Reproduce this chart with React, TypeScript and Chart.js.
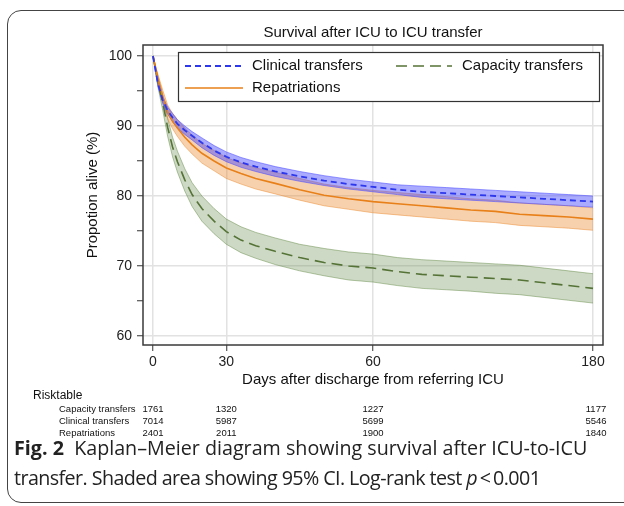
import React, { useEffect, useRef } from 'react';
import { Chart, registerables } from 'chart.js';

Chart.register(...registerables);

// ---- data ----
const days = [0, 2, 4, 6, 8, 10, 13, 16, 20, 25, 30, 36, 42, 50, 60, 70, 80, 90, 100, 110, 120, 130, 140, 150, 160, 170, 180];

const clinical = [100, 96.1, 93.7, 92.2, 91.2, 90.3, 89.4, 88.6, 87.6, 86.5, 85.6, 84.8, 84.2, 83.5, 82.8, 82.2, 81.7, 81.3, 80.9, 80.6, 80.4, 80.2, 80.0, 79.8, 79.6, 79.4, 79.2];
const clinicalLow = [100, 95.7, 93.2, 91.7, 90.6, 89.7, 88.8, 88.0, 86.9, 85.8, 84.9, 84.1, 83.5, 82.8, 82.1, 81.5, 81.0, 80.6, 80.2, 79.8, 79.6, 79.4, 79.2, 79.0, 78.8, 78.6, 78.4];
const clinicalHigh = [100, 96.5, 94.2, 92.7, 91.8, 90.9, 90.0, 89.2, 88.3, 87.2, 86.3, 85.5, 84.9, 84.2, 83.5, 82.9, 82.4, 82.0, 81.6, 81.4, 81.2, 81.0, 80.8, 80.6, 80.4, 80.2, 80.0];

const repatriations = [100, 96.7, 94.2, 92.0, 90.7, 89.7, 88.4, 87.3, 86.1, 85.0, 84.0, 83.2, 82.5, 81.8, 80.9, 80.1, 79.6, 79.2, 78.9, 78.6, 78.3, 78.0, 77.8, 77.4, 77.2, 77.0, 76.7];
const repatriationsLow = [100, 96.0, 93.3, 91.0, 89.6, 88.5, 87.1, 86.0, 84.7, 83.6, 82.5, 81.7, 81.0, 80.3, 79.4, 78.6, 78.1, 77.6, 77.3, 77.0, 76.7, 76.4, 76.2, 75.8, 75.6, 75.4, 75.1];
const repatriationsHigh = [100, 97.4, 95.1, 93.0, 91.8, 90.9, 89.7, 88.7, 87.5, 86.5, 85.5, 84.7, 84.0, 83.4, 82.5, 81.7, 81.2, 80.8, 80.5, 80.2, 79.9, 79.6, 79.4, 79.0, 78.8, 78.6, 78.3];

const capacity = [100, 96.4, 93.3, 89.8, 87.0, 84.9, 82.3, 80.2, 78.2, 76.4, 74.9, 73.7, 72.9, 72.1, 71.2, 70.5, 70.0, 69.7, 69.2, 68.8, 68.6, 68.4, 68.2, 68.0, 67.6, 67.2, 66.8];
const capacityLow = [100, 95.6, 92.2, 88.5, 85.6, 83.4, 80.7, 78.5, 76.4, 74.6, 73.1, 71.9, 71.1, 70.2, 69.3, 68.6, 68.0, 67.7, 67.2, 66.8, 66.6, 66.4, 66.1, 65.9, 65.5, 65.1, 64.7];
const capacityHigh = [100, 97.2, 94.4, 91.1, 88.4, 86.4, 83.9, 81.9, 80.0, 78.2, 76.7, 75.6, 74.8, 74.0, 73.1, 72.5, 72.0, 71.7, 71.2, 70.9, 70.7, 70.5, 70.3, 70.1, 69.7, 69.3, 68.9];

const xTickValues = [0, 30, 90, 180];
const xTickLabels = ['0', '30', '60', '180'];
const yTickValues = [60, 65, 70, 75, 80, 85, 90, 95, 100];

const riskGroups = ['Capacity transfers', 'Clinical transfers', 'Repatriations'];
const riskCapacity = [1761, 1320, 1227, 1177];
const riskClinical = [7014, 5987, 5699, 5546];
const riskRepatriations = [2401, 2011, 1900, 1840];

const FONT = '"Liberation Sans", Arial, Helvetica, sans-serif';

const pts = (arr: number[]) => days.map((d, i) => ({ x: d, y: arr[i] }));

const BLUE = 'rgb(45,55,235)';
const ORANGE = 'rgb(232,128,25)';
const GREEN = 'rgb(85,115,55)';

export default function App() {
  const ref = useRef<HTMLCanvasElement | null>(null);

  useEffect(() => {
    if (!ref.current) return;
    Chart.defaults.font.family = FONT;

    const band = (data: number[], edge: string, fillColor: string, order: number, fill: any) => ({
      label: '',
      data: pts(data),
      borderColor: edge,
      borderWidth: 1,
      backgroundColor: fillColor,
      pointRadius: 0,
      fill,
      order,
      tension: 0,
    });

    const datasets: any[] = [
      band(capacityLow, 'rgba(90,130,60,0.45)', 'rgba(90,130,60,0.3)', 8, false),
      band(capacityHigh, 'rgba(90,130,60,0.45)', 'rgba(90,130,60,0.3)', 7, '-1'),
      band(repatriationsLow, 'rgba(235,140,50,0.5)', 'rgba(235,140,50,0.4)', 6, false),
      band(repatriationsHigh, 'rgba(235,140,50,0.5)', 'rgba(235,140,50,0.4)', 5, '-1'),
      band(clinicalLow, 'rgba(75,75,255,0.55)', 'rgba(75,75,255,0.47)', 4, false),
      band(clinicalHigh, 'rgba(75,75,255,0.55)', 'rgba(75,75,255,0.47)', 3, '-1'),
      { label: 'Capacity transfers', data: pts(capacity), borderColor: GREEN, borderWidth: 1.6, borderDash: [11, 6], pointRadius: 0, fill: false, order: 2 },
      { label: 'Repatriations', data: pts(repatriations), borderColor: ORANGE, borderWidth: 1.6, pointRadius: 0, fill: false, order: 1 },
      { label: 'Clinical transfers', data: pts(clinical), borderColor: BLUE, borderWidth: 1.8, borderDash: [6, 4], pointRadius: 0, fill: false, order: 0 },
    ];

    const legendItems = [
      { index: 8, dx: 7, dy: 14, len: 58, gap: 9 },
      { index: 6, dx: 218, dy: 14, len: 56, gap: 10 },
      { index: 7, dx: 7, dy: 36, len: 58, gap: 9 },
    ];

    const overlay = {
      id: 'overlay',
      afterDatasetsDraw(chart: any) {
        const { ctx, chartArea: a } = chart;
        ctx.save();
        ctx.strokeStyle = '#3a3a3a';
        ctx.lineWidth = 1.5;
        ctx.strokeRect(a.left, a.top, a.right - a.left, a.bottom - a.top);

        const bx = a.left + 35, by = a.top + 7, bw = 421, bh = 49;
        ctx.fillStyle = '#ffffff';
        ctx.fillRect(bx, by, bw, bh);
        ctx.lineWidth = 1.2;
        ctx.strokeStyle = '#333';
        ctx.strokeRect(bx + 0.5, by + 0.5, bw, bh);
        legendItems.forEach((it) => {
          const ds = chart.data.datasets[it.index];
          const x0 = bx + it.dx, y = by + it.dy;
          ctx.beginPath();
          ctx.setLineDash(ds.borderDash || []);
          ctx.strokeStyle = ds.borderColor;
          ctx.lineWidth = ds.borderWidth;
          ctx.moveTo(x0, y);
          ctx.lineTo(x0 + it.len, y);
          ctx.stroke();
          ctx.setLineDash([]);
          ctx.fillStyle = '#111';
          ctx.font = '15px ' + FONT;
          ctx.textBaseline = 'middle';
          ctx.textAlign = 'left';
          ctx.fillText(ds.label, x0 + it.len + it.gap, y);
        });
        ctx.restore();
      },
      afterDraw(chart: any) {
        const { ctx, chartArea: a } = chart;
        const xs = chart.scales.x;
        ctx.save();
        ctx.fillStyle = '#111';
        ctx.textBaseline = 'middle';
        ctx.textAlign = 'center';
        ctx.font = '15px ' + FONT;
        ctx.fillText('Survival after ICU to ICU transfer', (a.left + a.right) / 2, a.top - 12);

        ctx.textAlign = 'left';
        ctx.font = '12px ' + FONT;
        ctx.fillText('Risktable', 33, 396);
        const rows = [riskCapacity, riskClinical, riskRepatriations];
        const rowY = [409, 421, 433];
        ctx.font = '9.5px ' + FONT;
        riskGroups.forEach((g, r) => {
          ctx.textAlign = 'left';
          ctx.fillText(g, 59, rowY[r]);
          ctx.textAlign = 'center';
          rows[r].forEach((n, j) => {
            ctx.fillText(String(n), xs.getPixelForValue(xTickValues[j]) + (j === rows[r].length - 1 ? 3 : 0), rowY[r]);
          });
        });
        ctx.restore();
      },
    };

    const chart = new Chart(ref.current, {
      type: 'line',
      data: { datasets },
      plugins: [overlay],
      options: {
        animation: false,
        responsive: false,
        layout: { padding: { left: 74, top: 45, right: 21, bottom: 45 } },
        plugins: { legend: { display: false }, tooltip: { enabled: false }, title: { display: false } },
        scales: {
          x: {
            type: 'linear',
            min: -4.09,
            max: 184.09,
            afterBuildTicks: (s: any) => { s.ticks = xTickValues.map((v) => ({ value: v })); },
            afterFit: (s: any) => { s.height = 50; },
            ticks: {
              callback: (v: any) => { const i = xTickValues.indexOf(Number(v)); return i >= 0 ? xTickLabels[i] : ''; },
              font: { size: 14 },
              color: '#222',
              padding: 3,
              maxRotation: 0,
              autoSkip: false,
            },
            grid: { color: '#e2e2e2', lineWidth: 1.5, tickLength: 6, tickColor: '#333', tickWidth: 1 },
            border: { display: false },
            title: { display: true, text: 'Days after discharge from referring ICU', font: { size: 15 }, color: '#111', padding: { top: 0, bottom: 6 } },
          },
          y: {
            type: 'linear',
            min: 58.71,
            max: 101.57,
            afterBuildTicks: (s: any) => { s.ticks = yTickValues.map((v) => ({ value: v })); },
            afterFit: (s: any) => { s.width = 69; },
            ticks: {
              callback: (v: any) => (Number(v) % 10 === 0 ? String(v) : ''),
              font: { size: 14 },
              color: '#222',
              padding: 5,
              autoSkip: false,
            },
            grid: {
              color: (c: any) => (c.tick && c.tick.value % 10 === 0 ? '#e2e2e2' : 'rgba(0,0,0,0)'),
              lineWidth: 1.5,
              tickLength: 6,
              tickColor: '#333',
              tickWidth: 1,
            },
            border: { display: false },
            title: { display: true, text: 'Propotion alive (%)', font: { size: 15 }, color: '#111', padding: { top: 10, bottom: 0 } },
          },
        },
      } as any,
    });
    return () => chart.destroy();
  }, []);

  return (
    <div style={{ position: 'fixed', left: 0, top: 0, width: 624, height: 506, overflow: 'hidden', background: '#fff' }}>
      <div style={{ position: 'absolute', left: 7, top: 10, width: 660, height: 491, border: '1px solid #444', borderRadius: 14 }} />
      <canvas ref={ref} width={624} height={440} style={{ position: 'absolute', left: 0, top: 0, width: 624, height: 440 }} />
      <div style={{ position: 'absolute', left: 14, top: 433, fontFamily: '"Open Sans", "Noto Sans", sans-serif', fontSize: 19.7, lineHeight: '30px', color: '#222', whiteSpace: 'nowrap' }}>
        <div style={{ letterSpacing: '0px' }}>
          <span style={{ fontWeight: 700 }}>Fig. 2</span>&nbsp;&nbsp;Kaplan–Meier diagram showing survival after ICU-to-ICU
        </div>
        <div style={{ letterSpacing: '-0.58px' }}>
          transfer. Shaded area showing 95% CI. Log-rank test <i>p</i>{'\u2009<\u2009'}0.001
        </div>
      </div>
    </div>
  );
}
